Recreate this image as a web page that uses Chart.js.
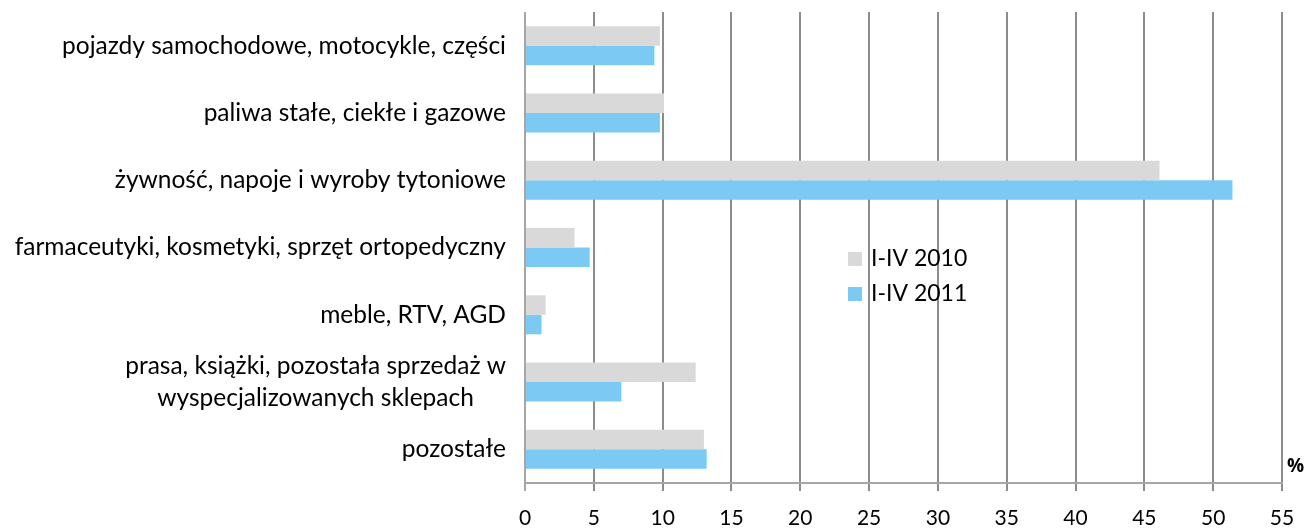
<!DOCTYPE html>
<html><head><meta charset="utf-8">
<script src="https://cdn.jsdelivr.net/npm/chart.js@4/dist/chart.umd.min.js"></script>
<style>html,body{margin:0;padding:0;background:#fff;}#wrap{width:1304px;height:531px;position:relative;}</style>
</head><body><div id="wrap"><canvas id="c" width="1304" height="531"></canvas></div>
<script>
const categories = [
  ["pojazdy samochodowe, motocykle, części"],
  ["paliwa stałe, ciekłe i gazowe"],
  ["żywność, napoje i wyroby tytoniowe"],
  ["farmaceutyki, kosmetyki, sprzęt ortopedyczny"],
  ["meble, RTV, AGD"],
  ["prasa, książki, pozostała sprzedaż w", "wyspecjalizowanych sklepach"],
  ["pozostałe"]
];
const seriesNames = ["I-IV 2010", "I-IV 2011"];
const values2010 = [9.8, 10.1, 46.1, 3.6, 1.5, 12.4, 13.0];
const values2011 = [9.4, 9.8, 51.4, 4.7, 1.2, 7.0, 13.2];
const xTicks = [0,5,10,15,20,25,30,35,40,45,50,55];
const unitLabel = "%";

const FONT = "Lato, 'Open Sans', sans-serif";

const labelPlugin = {
  id: 'customText',
  afterDraw(chart) {
    const ctx = chart.ctx;
    const y = chart.scales.y;
    ctx.save();
    ctx.fillStyle = '#000';
    ctx.font = '24.5px ' + FONT;
    ctx.textBaseline = 'middle';
    categories.forEach((lines, i) => {
      const cy = y.getPixelForValue(i);
      const lh = 32;
      if (lines.length === 1) {
        ctx.textAlign = 'right';
        ctx.fillText(lines[0], 506, cy);
      } else {
        const widths = lines.map(l => ctx.measureText(l).width);
        const maxW = Math.max(...widths);
        const centerX = 506 - maxW / 2;
        ctx.textAlign = 'center';
        lines.forEach((l, k) => {
          ctx.fillText(l, centerX, cy + (k - (lines.length - 1) / 2) * lh);
        });
      }
    });
    // legend
    ctx.font = '23px ' + FONT;
    const ds = chart.data.datasets;
    const legY = [259, 294];
    ds.forEach((d, i) => {
      ctx.fillStyle = d.backgroundColor;
      ctx.fillRect(848, legY[i] - 7, 14, 14);
      ctx.fillStyle = '#000';
      ctx.textAlign = 'left';
      ctx.fillText(d.label, 871, legY[i]);
    });
    // unit label
    ctx.font = 'bold 19px "Open Sans", sans-serif';
    ctx.textAlign = 'left';
    ctx.fillText(unitLabel, 1287, 467);
    ctx.restore();
  }
};

new Chart(document.getElementById('c'), {
  type: 'bar',
  data: {
    labels: categories.map(c => c.join(' ')),
    datasets: [
      { label: seriesNames[0], data: values2010, backgroundColor: '#d9d9d9' },
      { label: seriesNames[1], data: values2011, backgroundColor: '#7cc9f4' }
    ]
  },
  options: {
    indexAxis: 'y',
    responsive: false,
    animation: false,
    devicePixelRatio: 1,
    layout: { padding: { left: 525, right: 22, top: 12, bottom: 0 } },
    datasets: { bar: { categoryPercentage: 0.58, barPercentage: 1.0, borderWidth: 0 } },
    plugins: { legend: { display: false }, tooltip: { enabled: false } },
    scales: {
      x: {
        min: 0, max: 55,
        afterBuildTicks: (s) => { s.ticks = xTicks.map(v => ({ value: v })); },
        afterFit: (s) => { s.height = 48; s.paddingRight = 0; s.paddingLeft = 0; },
        grid: {
          color: (c) => c.index === 0 ? '#a6a6a6' : '#8c8c8c',
          lineWidth: 2,
          tickLength: 8,
          drawTicks: true
        },
        border: { display: true, color: '#a6a6a6', width: 2 },
        ticks: { color: '#000', font: { family: FONT, size: 21 }, padding: 15, maxRotation: 0 }
      },
      y: {
        grid: { display: false, drawTicks: false },
        border: { display: false },
        ticks: { display: false }
      }
    }
  },
  plugins: [labelPlugin]
});
</script>
</body></html>
